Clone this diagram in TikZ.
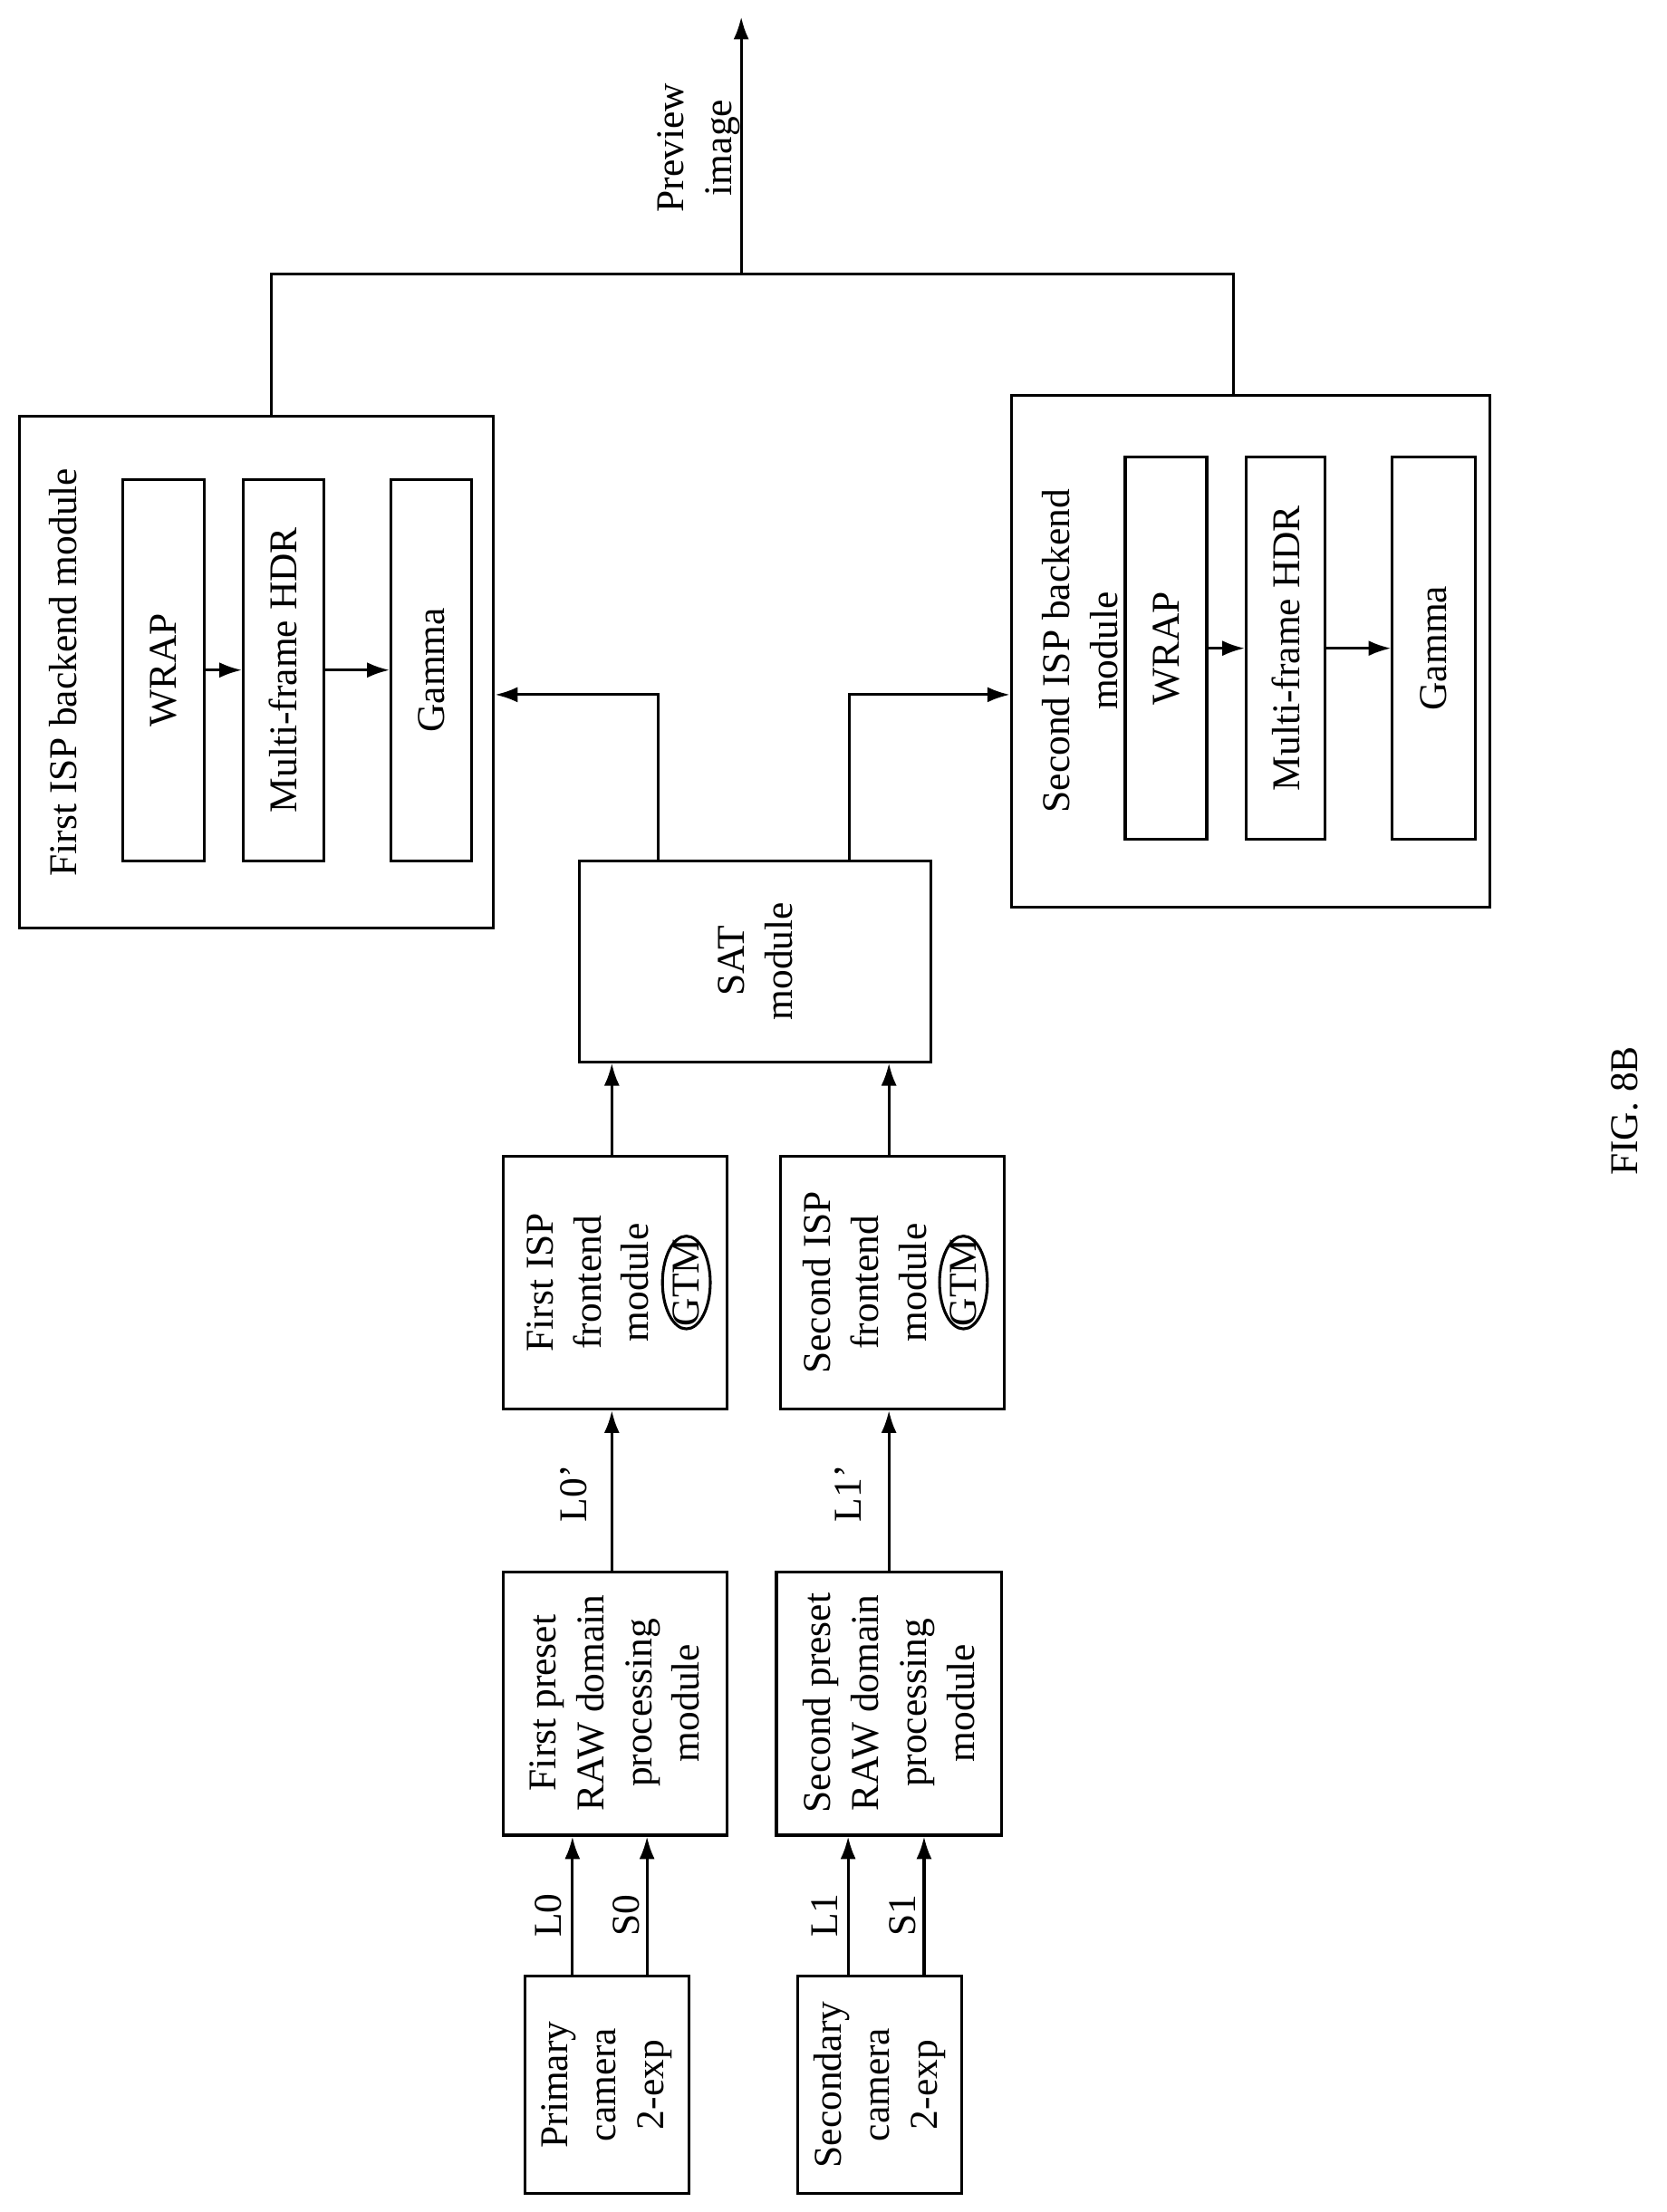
\documentclass[tikz,border=0pt]{standalone}
\usepackage{fontspec}
\setmainfont{Liberation Serif}
\usetikzlibrary{arrows.meta}
\begin{document}
\begin{tikzpicture}[x=1pt,y=-1pt,line width=2pt,
  box/.style={draw,rectangle,inner sep=0pt},
  txt/.style={rotate=90,align=center,font=\fontsize{28}{34}\selectfont,inner sep=0pt},
  arr/.style={-{Latex[length=16pt,width=11pt]}}]
\useasboundingbox (0,0) rectangle (1185,1573);
\newcommand\bx[5]{\node[box,minimum width={#4-#2},minimum height={#5-#3}] (#1) at ({(#2+#4)/2},{(#3+#5)/2}) {};}
% first backend
\bx{fb}{14}{296}{351}{660}
\node[txt] (fbt) at (45,478) {First ISP backend module};
\bx{fw}{87}{341}{145}{612}\node[txt] (fwt) at (fw) {WRAP};
\bx{fm}{173}{341}{230}{612}\node[txt] (fmt) at (fm) {Multi-frame HDR};
\bx{fg}{278}{341}{335}{612}\node[txt] (fgt) at (fg) {Gamma};
\draw[arr] (fw) -- (fm);\draw[arr] (fm) -- (fg);
% second backend
\bx{sb}{719}{281}{1059}{645}
\node[txt] (sbt) at (768,463) {Second ISP backend\\module};
\bx{sw}{800}{325}{858}{597}\node[txt] (swt) at (sw) {WRAP};
\bx{sm}{886}{325}{942}{597}\node[txt] (smt) at (sm) {Multi-frame HDR};
\bx{sg}{990}{325}{1049}{597}\node[txt] (sgt) at (sg) {Gamma};
\draw[arr] (sw) -- (sm);\draw[arr] (sm) -- (sg);
% top output
\coordinate (c1) at (193,195);\coordinate (c2) at (877,195);
\coordinate (cm) at (527,195);\coordinate (out) at (527,12);
\draw (fb.north -| c1) -- (c1) -- (c2) -- (sb.north -| c2);
\draw[arr] (cm) -- (out);
\node[txt] (prev) at (497,105) {Preview\\image};
% SAT
\bx{sat}{412}{612}{662}{755}\node[txt] (satt) at (sat) {SAT\\module};
\coordinate (s1) at (468,494);\coordinate (s2) at (604,494);
\draw[arr] (sat.north -| s1) -- (s1) -- (s1 -| fb.east);
\draw[arr] (sat.north -| s2) -- (s2) -- (s2 -| sb.west);
% frontends
\bx{ff}{358}{822}{517}{1002}
\node[txt] (fft) at (418,912) {First ISP\\frontend\\module};
\draw (488,912) ellipse (17 and 33);\node[txt] (g1) at (488,912) {GTM};
\bx{sf}{555}{822}{714}{1002}
\node[txt] (sft) at (615,912) {Second ISP\\frontend\\module};
\draw (685,912) ellipse (17 and 33);\node[txt] (g2) at (685,912) {GTM};
\coordinate (a1) at (435,0);\coordinate (a2) at (632,0);
\draw[arr] (ff.north -| a1) -- (sat.south -| a1);
\draw[arr] (sf.north -| a2) -- (sat.south -| a2);
% raw
\bx{fr}{358}{1118}{517}{1305}
\node[txt] (frt) at (437,1211) {First preset\\RAW domain\\processing\\module};
\bx{sr}{552}{1118}{712}{1305}
\node[txt] (srt) at (632,1211) {Second preset\\RAW domain\\processing\\module};
\draw[arr] (fr.north -| a1) -- (ff.south -| a1);
\draw[arr] (sr.north -| a2) -- (sf.south -| a2);
\node[txt] (l0p) at (408,1062) {L0'};
\node[txt] (l1p) at (603,1062) {L1'};
% cameras
\bx{pc}{373}{1405}{490}{1560}
\node[txt] (pct) at (pc) {Primary\\camera\\2-exp};
\bx{sc}{567}{1405}{684}{1560}
\node[txt] (sct) at (sc) {Secondary\\camera\\2-exp};
\coordinate (b1) at (407,0);\coordinate (b2) at (460,0);
\coordinate (b3) at (603,0);\coordinate (b4) at (657,0);
\draw[arr] (pc.north -| b1) -- (fr.south -| b1);
\draw[arr] (pc.north -| b2) -- (fr.south -| b2);
\draw[arr] (sc.north -| b3) -- (sr.south -| b3);
\draw[arr] (sc.north -| b4) -- (sr.south -| b4);
\node[txt] (l0) at (390,1362) {L0};
\node[txt] (s0) at (445,1362) {S0};
\node[txt] (l1) at (586,1362) {L1};
\node[txt] (s1t) at (642,1362) {S1};
\node[txt] (fig) at (1155,790) {FIG. 8B};
\end{tikzpicture}
\end{document}
